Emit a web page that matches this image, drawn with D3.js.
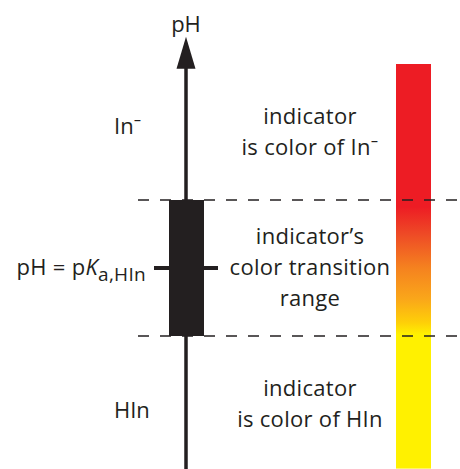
<!DOCTYPE html>
<meta charset="utf-8">
<style>
    body { margin: 0; background: #fff; }
    text { font-family: "Open Sans", "Noto Sans", sans-serif; fill: #231f20; }
</style>
<svg width="460" height="469"></svg>
<script src="https://cdn.jsdelivr.net/npm/d3@7"></script>
<script>
    // pH measured relative to pKa of the indicator (pKa = 0)
    const pKa = 0;
    const transitionRange = [-1, 1];
    const axisRange = [-3, 3.4];
    const barRange = [-2.95, 3];

    // colour of the indicator along the pH scale
    const stopPH = [3, 0.9, 0.5, 0, -0.45, -0.8, -0.98, -2.95];
    const stopColors = ["#ed1c24", "#ed1c24", "#ee4a26", "#f5821f", "#faa61a", "#fecf08", "#fff100", "#fff100"];

    const regionLabels = [
        ["indicator", "is color of In\u207b"],
        ["indicator\u2019s", "color transition", "range"],
        ["indicator", "is color of HIn"]
    ];
    const regionCenters = [2.0, 0, -2.0];
    const sideLabels = ["In\u207b", "HIn"];
    const sidePH = [1.97, -2.2];

    var svg = d3.select("svg"),
        axisX = 186,
        fontSize = 22;

    var y = d3.scaleLinear().domain(transitionRange).range([336, 200]);

    var defs = svg.append("defs");
    var grad = defs.append("linearGradient")
        .attr("id", "indcolor")
        .attr("gradientUnits", "userSpaceOnUse")
        .attr("x1", 0).attr("x2", 0)
        .attr("y1", y(barRange[1])).attr("y2", y(barRange[0]));
    var barScale = d3.scaleLinear().domain([barRange[1], barRange[0]]).range([0, 1]);
    grad.selectAll("stop")
        .data(stopPH)
        .enter().append("stop")
        .attr("offset", d => barScale(d))
        .attr("stop-color", (d, i) => stopColors[i]);

    // colour bar
    svg.append("rect")
        .attr("x", 396)
        .attr("width", 35)
        .attr("y", y(barRange[1]))
        .attr("height", y(barRange[0]) - y(barRange[1]))
        .attr("fill", "url(#indcolor)");

    // dashed boundaries
    svg.selectAll(".bound")
        .data(transitionRange)
        .enter().append("line")
        .attr("class", "bound")
        .attr("x1", 138).attr("x2", 460)
        .attr("y1", d => y(d)).attr("y2", d => y(d))
        .attr("stroke", "#231f20")
        .attr("stroke-width", 1.6)
        .attr("stroke-dasharray", "11,11");

    // pH axis with arrow
    svg.append("line")
        .attr("x1", axisX).attr("x2", axisX)
        .attr("y1", y(axisRange[0])).attr("y2", y(axisRange[1]) + 20)
        .attr("stroke", "#231f20")
        .attr("stroke-width", 3.5);

    var tip = y(axisRange[1]);
    svg.append("path")
        .attr("d", `M${axisX},${tip} L${axisX + 9.5},${tip + 32} L${axisX - 9.5},${tip + 32} Z`)
        .attr("fill", "#231f20");

    svg.append("text")
        .attr("x", axisX)
        .attr("y", tip - 5)
        .attr("text-anchor", "middle")
        .style("font-size", fontSize + "px")
        .text("pH");

    // transition range box
    svg.append("rect")
        .attr("x", 169).attr("width", 35)
        .attr("y", y(transitionRange[1]))
        .attr("height", y(transitionRange[0]) - y(transitionRange[1]))
        .attr("fill", "#231f20");

    // pKa ticks
    svg.selectAll(".pka")
        .data([[154, 172], [200, 218]])
        .enter().append("line")
        .attr("class", "pka")
        .attr("x1", d => d[0]).attr("x2", d => d[1])
        .attr("y1", y(pKa)).attr("y2", y(pKa))
        .attr("stroke", "#231f20")
        .attr("stroke-width", 4);

    var pkaLabel = svg.append("text")
        .attr("x", 146)
        .attr("y", y(pKa) + 7)
        .attr("text-anchor", "end")
        .style("font-size", fontSize + "px")
        .style("letter-spacing", "0.3px");
    pkaLabel.append("tspan").text("pH = p");
    pkaLabel.append("tspan").style("font-style", "italic").text("K");
    pkaLabel.append("tspan").attr("dy", 6).style("font-size", "19px").text("a,HIn");

    // side labels
    svg.selectAll(".side")
        .data(sideLabels)
        .enter().append("text")
        .attr("class", "side")
        .attr("x", 114)
        .attr("y", (d, i) => y(sidePH[i]))
        .style("font-size", fontSize + "px")
        .text(d => d);

    // region descriptions
    var regions = svg.selectAll(".region")
        .data(regionLabels)
        .enter().append("text")
        .attr("class", "region")
        .attr("text-anchor", "middle")
        .style("font-size", fontSize + "px")
        .style("letter-spacing", "0.3px");

    regions.selectAll("tspan")
        .data((d, i) => d.map((t, j) => ({ t: t, n: d.length, j: j, c: regionCenters[i] })))
        .enter().append("tspan")
        .attr("x", 310)
        .attr("y", d => y(d.c) + 7 + (d.j - (d.n - 1) / 2) * 31)
        .text(d => d.t);
</script>
